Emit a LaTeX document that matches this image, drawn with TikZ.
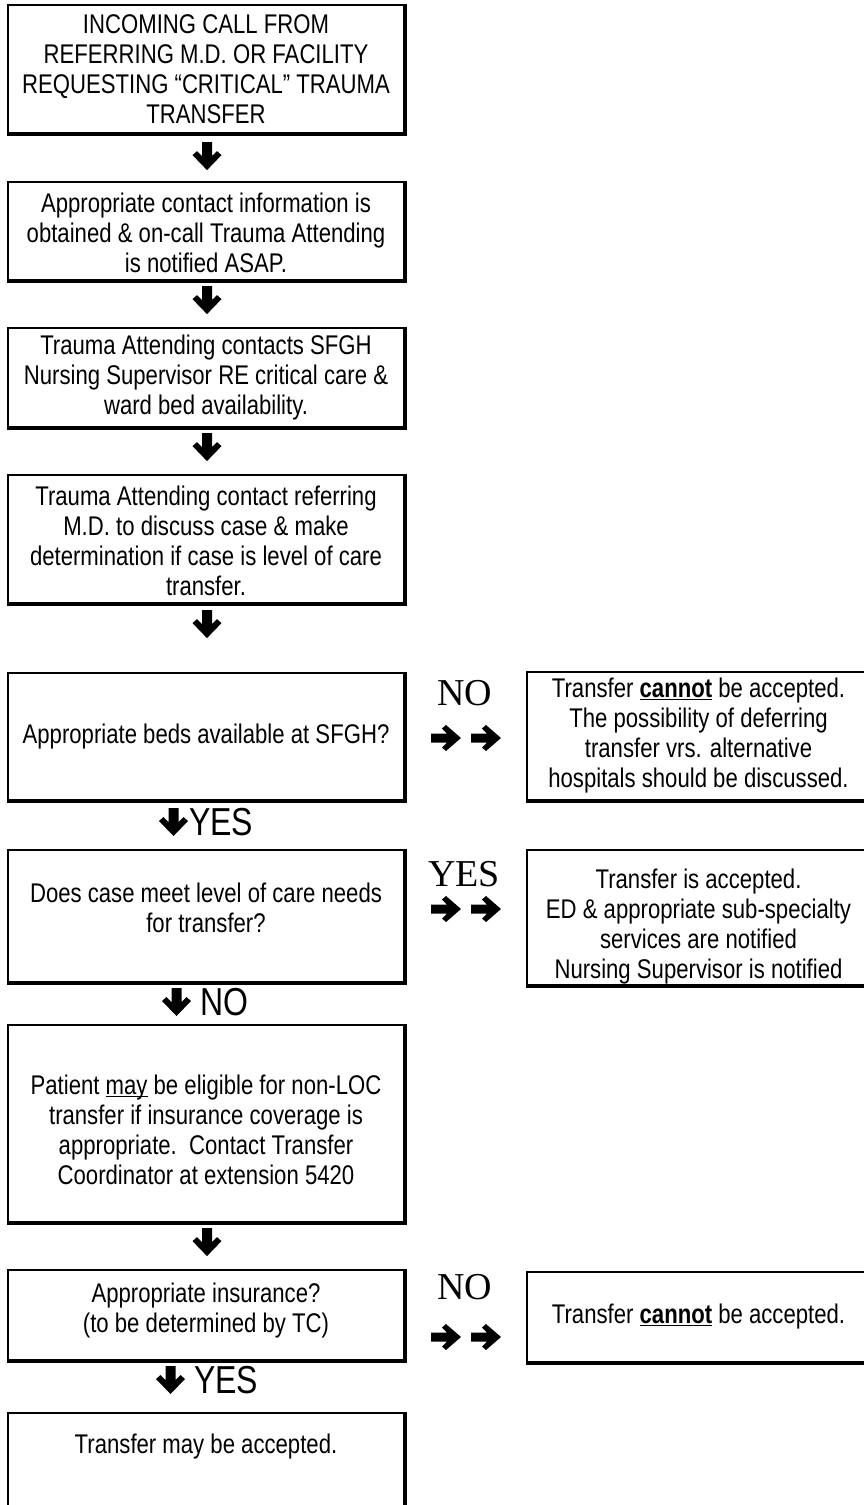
\documentclass[tikz,border=0pt]{standalone}
\usepackage{fontspec}
\setmainfont[FakeStretch=0.82]{Liberation Sans}
\newfontfamily\lblserif{Liberation Serif}
\usetikzlibrary{calc}
\newcommand\firstline[1]{\rule{0pt}{#1}}
\tikzset{
  box/.style={draw, line width=2.2pt, minimum width=396pt, inner sep=0pt, align=center, font=\fontsize{27}{30}\selectfont},
  rbox/.style={box, minimum width=343pt, line width=2pt},
  boxtext/.style={inner sep=0pt, align=center, font=\fontsize{27}{30}\selectfont},
  shadowedge/.style={line width=4.5pt},
  downarrow/.pic={\fill (-5,-14) -- (5,-14) -- (5,0) -- (10,-5) -- (14.5,-1) -- (0,14) -- (-14.5,-1) -- (-10,-5) -- (-5,0) -- cycle;},
  rightarrow/.pic={\fill (-15,-4.5) -- (-15,4.5) -- (1,4.5) -- (-4,9.5) -- (0,13) -- (15,0) -- (0,-13) -- (-4,-9.5) -- (1,-4.5) -- cycle;},
  biglabel/.style={font=\fontsize{39}{39}\selectfont, inner sep=0pt},
  seriflabel/.style={font=\lblserif\fontsize{38}{38}\selectfont, inner sep=0pt},
}
\begin{document}
\begin{tikzpicture}[x=1pt,y=-1pt]
\useasboundingbox (0,0) rectangle (863,1505);

% left column boxes
\node[box, minimum height=128] (b1) at (206,69) {INCOMING CALL FROM\\REFERRING M.D. OR FACILITY\\REQUESTING “CRITICAL” TRAUMA\\TRANSFER};
\node[box, minimum height=98] (b2) at (206,231) {\firstline{24pt}Appropriate contact information is\\obtained \& on-call Trauma Attending\\is notified ASAP.};
\node[box, minimum height=99] (b3) at (206,377.5) {Trauma Attending contacts SFGH\\Nursing Supervisor RE critical care \&\\ward bed availability.};
\node[box, minimum height=128] (b4) at (206,539) {\firstline{24pt}Trauma Attending contact referring\\M.D. to discuss case \& make\\determination if case is level of care\\transfer.};
\node[box, minimum height=127] (b5) at (206,736.5) {Appropriate beds available at SFGH?};
\node[box, minimum height=132] (b6) at (206,916) {Does case meet level of care needs\\for transfer?\\[-14pt]};
\node[box, minimum height=197] (b7) at (206,1123.5) {\firstline{32pt}Patient \underline{\smash{may}} be eligible for non-LOC\\transfer if insurance coverage is\\appropriate.\ \ Contact Transfer\\Coordinator at extension 5420};
\node[box, minimum height=90] (b8) at (206,1315) {Appropriate insurance?\\(to be determined by TC)\\[-16pt]};
\node[box, minimum height=140, anchor=north] (b9) at (206,1412) {};
\node[boxtext] (t9) at (206,1447) {Transfer may be accepted.};

% right column boxes
\node[rbox, minimum height=128] (r1) at (698.5,736) {Transfer \underline{\textbf{cannot}} be accepted.\\The possibility of deferring\\transfer vrs. alternative\\hospitals should be discussed.};
\node[rbox, minimum height=135] (r2) at (698.5,917.5) {\firstline{37pt}Transfer is accepted.\\ED \& appropriate sub-specialty\\services are notified\\Nursing Supervisor is notified};
\node[rbox, minimum height=90] (r3) at (698.5,1317) {Transfer \underline{\textbf{cannot}} be accepted.};

% shadow edges
\foreach \n in {b1,b2,b3,b4,b5,b6,b7,b8}
  \draw[shadowedge] (\n.north east) -- (\n.south east) -- (\n.south west);
\draw[shadowedge] (b9.north east) -- (b9.south east);
\foreach \n in {r1,r2,r3}
  \draw[shadowedge] (\n.south east) -- (\n.south west);

% down arrows
\pic at ($(b1.south)+(1,22)$) {downarrow};
\pic at ($(b2.south)+(1,19)$) {downarrow};
\pic at ($(b3.south)+(1,19)$) {downarrow};
\pic at ($(b4.south)+(1,20)$) {downarrow};
\pic at ($(b7.south)+(1,19)$) {downarrow};

% labelled down arrows
\pic at (173.5,822) {downarrow};
\node[biglabel, anchor=west] (l1) at (189,822) {YES};
\pic at (176.5,1002) {downarrow};
\node[biglabel, anchor=west] (l2) at (200,1002) {NO};
\pic at (170.5,1380) {downarrow};
\node[biglabel, anchor=west] (l3) at (194,1380) {YES};

% right double arrows with labels
\node[seriflabel] (n1) at (465,693) {NO};
\pic at (446,738) {rightarrow};
\pic at (486,738) {rightarrow};
\node[seriflabel] (n2) at (464,874) {YES};
\pic at (446,909) {rightarrow};
\pic at (486,909) {rightarrow};
\node[seriflabel] (n3) at (465,1287) {NO};
\pic at (446,1337) {rightarrow};
\pic at (486,1337) {rightarrow};
\end{tikzpicture}
\end{document}
